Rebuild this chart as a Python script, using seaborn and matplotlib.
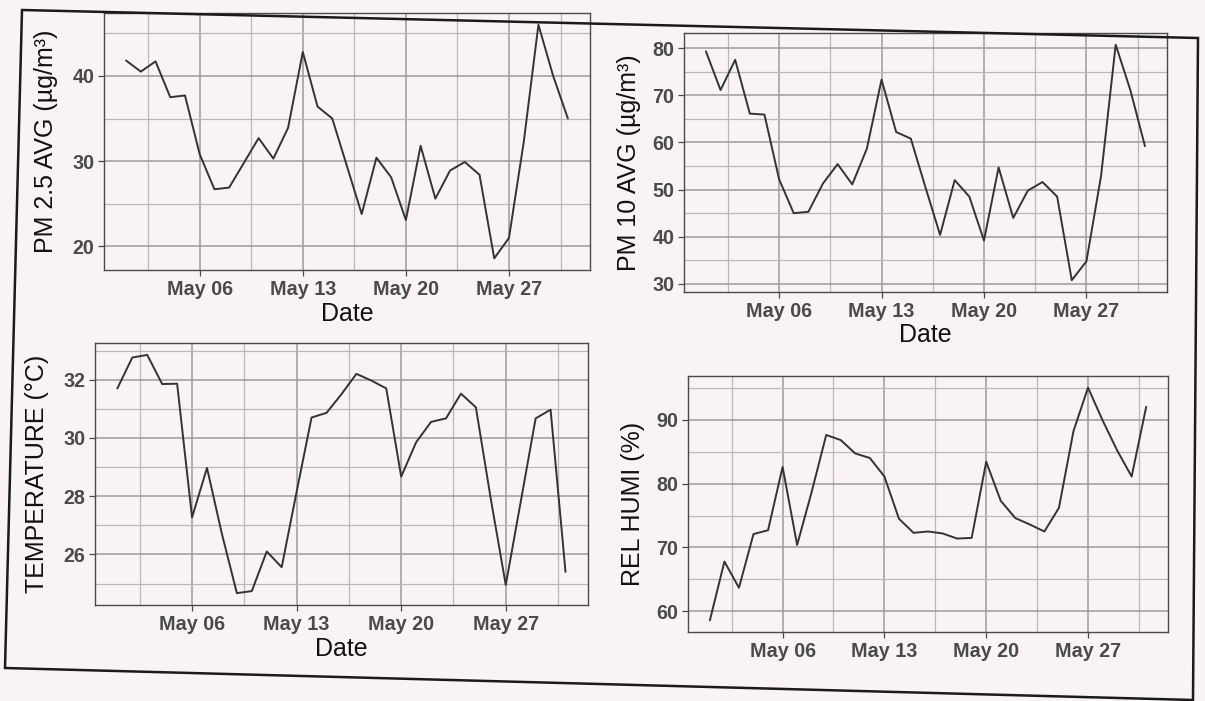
import numpy as np
import pandas as pd
import matplotlib
matplotlib.use("Agg")
import matplotlib.pyplot as plt
import matplotlib.dates as mdates
from matplotlib.ticker import MultipleLocator
from matplotlib.patches import Polygon
import seaborn as sns

# ==========================================================
# DATA (daily values, May 2019)
# ==========================================================

dates = pd.date_range("2019-05-01", "2019-05-31", freq="D")

pm25 = [41.8, 40.5, 41.7, 37.5, 37.7, 30.8, 26.7, 26.9, 29.8, 32.7,
        30.3, 33.9, 42.8, 36.4, 35.0, 29.4, 23.8, 30.4, 28.1, 23.1,
        31.8, 25.6, 28.9, 29.9, 28.4, 18.6, 21.0, 32.2, 46.0, 40.0,
        35.0]

pm10 = [79.3, 71.1, 77.5, 66.1, 65.9, 52.2, 45.0, 45.3, 51.3, 55.4,
        51.1, 58.7, 73.3, 62.2, 60.8, 50.5, 40.4, 52.0, 48.5, 39.2,
        54.7, 44.0, 49.8, 51.6, 48.5, 30.8, 34.8, 52.9, 80.7, 71.1,
        59.2]

temperature = [31.7, 32.76, 32.85, 31.85, 31.86, 27.27, 28.97, 26.7, 24.67, 24.74,
               26.1, 25.56, 28.15, 30.7, 30.86, 31.5, 32.2, 31.97, 31.7, 28.67,
               29.85, 30.55, 30.67, 31.52, 31.05, 27.9, 24.95, 27.8, 30.67, 30.97,
               25.4]

rel_humi = [58.6, 67.8, 63.7, 72.1, 72.7, 82.6, 70.4, 78.7, 87.6, 86.8,
            84.7, 84.0, 81.1, 74.5, 72.3, 72.5, 72.2, 71.4, 71.5, 83.4,
            77.3, 74.6, 73.6, 72.5, 76.2, 88.2, 95.0, 89.9, 85.2, 81.1,
            92.0]

y_titles = ["PM 2.5 AVG (µg/m³)", "PM 10 AVG (µg/m³)",
            "TEMPERATURE (°C)", "REL HUMI (%)"]
y_steps = [10, 10, 2, 10]
x_titles = ["Date", "Date", "Date", ""]

# ==========================================================
# STYLE
# ==========================================================

sns.set_style("white")
plt.rcParams["font.family"] = ["Liberation Sans", "DejaVu Sans"]

bg = "#f9f3f7"
line_col = "#333333"

fig = plt.figure(figsize=(12.05, 7.01), dpi=100, facecolor=bg)

# panel boxes [left, bottom, width, height] in figure fraction
boxes = [
    [0.0863, 0.6148, 0.4033, 0.3666],
    [0.5676, 0.5835, 0.4008, 0.3695],
    [0.0788, 0.1369, 0.4091, 0.3738],
    [0.5710, 0.0984, 0.3983, 0.3652],
]
ylabel_pads = [10, 8, 10, 8]

series = [pm25, pm10, temperature, rel_humi]

# ==========================================================
# PANELS
# ==========================================================

for i, values in enumerate(series):

    ax = fig.add_axes(boxes[i])
    ax.set_facecolor(bg)

    df = pd.DataFrame({"Date": dates, "Value": values})

    sns.lineplot(
        data=df,
        x="Date",
        y="Value",
        ax=ax,
        color=line_col,
        linewidth=1.4
    )

    # x ticks: weekly majors, minors halfway between
    majors = pd.date_range("2019-05-06", "2019-05-27", freq="7D")
    minors = list(majors - pd.Timedelta(days=3.5)) + [majors[-1] + pd.Timedelta(days=3.5)]
    ax.set_xticks(majors)
    ax.set_xticks(minors, minor=True)
    ax.xaxis.set_major_formatter(mdates.DateFormatter("%b %d"))

    ax.yaxis.set_major_locator(MultipleLocator(y_steps[i]))
    ax.yaxis.set_minor_locator(MultipleLocator(y_steps[i] / 2))

    ax.grid(which="major", color="#9c9c9c", linewidth=1.1)
    ax.grid(which="minor", color="#b8b8b8", linewidth=0.9)
    ax.set_axisbelow(True)

    for s in ax.spines.values():
        s.set_color("#4a4a4a")
        s.set_linewidth(1.0)

    ax.tick_params(which="major", length=4, width=0.9, color="#4a4a4a",
                   labelsize=14.2, labelcolor="#4a4a4a", pad=3,
                   bottom=True, left=True)
    ax.tick_params(which="minor", length=0)
    for lab in ax.get_xticklabels() + ax.get_yticklabels():
        lab.set_fontweight("bold")

    ax.set_xlabel(x_titles[i], fontsize=18, color="#111111", labelpad=2)
    ax.set_ylabel(y_titles[i], fontsize=18, color="#111111",
                  labelpad=ylabel_pads[i])

# outer frame of the scanned page
frame = Polygon(
    [(22 / 1205, 1 - 10 / 701), (1198 / 1205, 1 - 38 / 701),
     (1193 / 1205, 1 - 700 / 701), (5 / 1205, 1 - 668 / 701)],
    closed=True, fill=False, edgecolor="#1a1a1a", linewidth=1.8,
    transform=fig.transFigure
)
fig.patches.append(frame)

plt.savefig("out.png", dpi=100, facecolor=bg)
